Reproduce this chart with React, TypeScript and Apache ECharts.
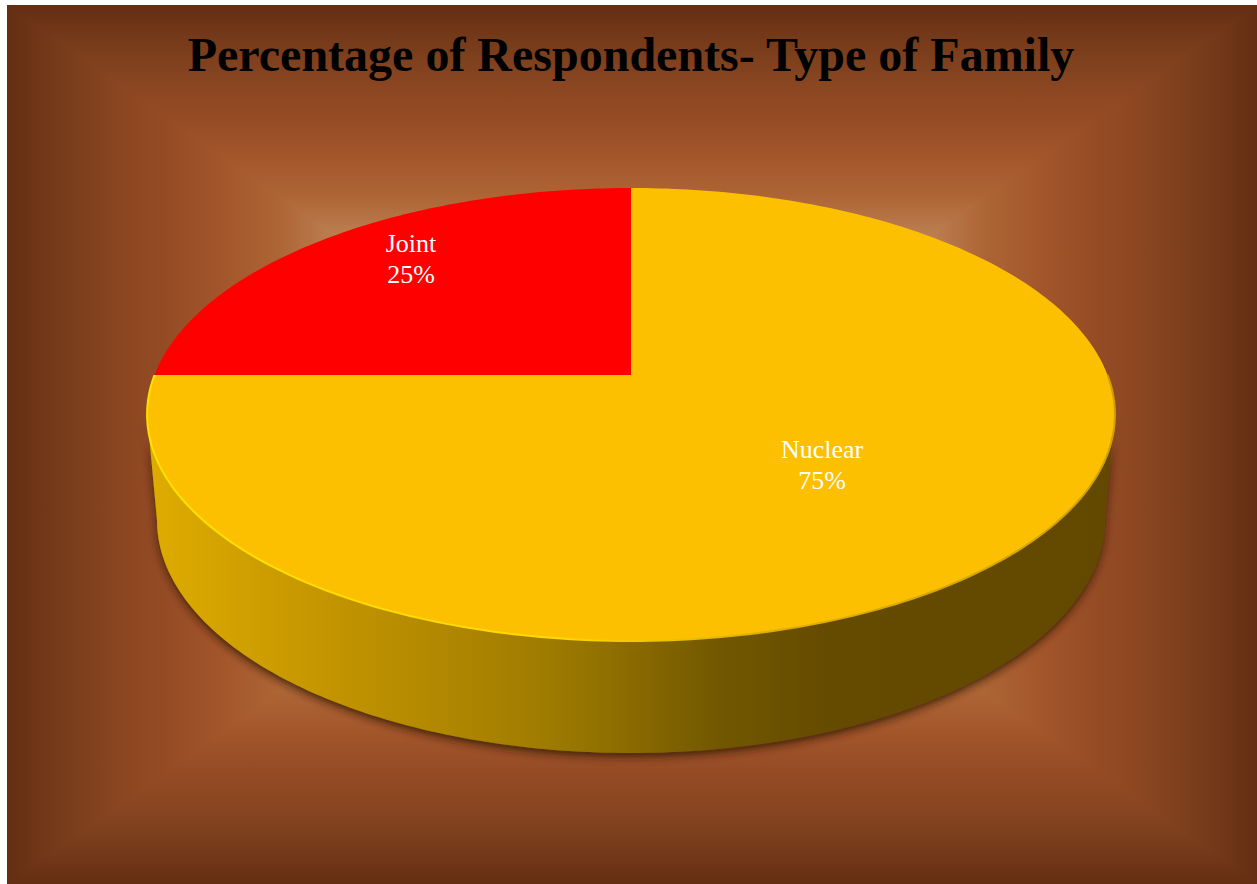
import React, { useEffect, useRef } from "react";
import * as echarts from "echarts";

const titleText = "Percentage of Respondents- Type of Family";
const categories = ["Nuclear", "Joint"];
const shares = [75, 25];
const sliceColors = ["#fcc000", "#ff0000"];

const WIDTH = 1257;
const HEIGHT = 884;

// Backdrop rectangle and its centre-out shading.
const BG = { left: 7, top: 5, right: 1257, bottom: 884 };
const bgRamp: [number, string][] = [
  [1, "#642e13"],
  [0.91, "#783c1b"],
  [0.83, "#884521"],
  [0.75, "#944b24"],
  [0.66, "#a3552a"],
  [0.56, "#ae6636"],
  [0.5, "#b8784a"],
  [0.45, "#c08558"],
  [0, "#d0a070"],
];

// Perspective disc: a homography from the unit circle to the tilted top face.
const DISC = { cx: 631, apexY: 375, radius: 476.5, rise: 154.2, persp: -0.1744 };
// Rim of the lower face of the disc.
const BASE = { cx: 631, cy: 520, rx: 474, ry: 233 };
// The wall starts where the top face is widest, a little before its horizontal radius.
const SILHOUETTE_INSET = (10 * Math.PI) / 180;

const wallStops: [number, string][] = [
  [150, "#deac00"],
  [350, "#c09200"],
  [540, "#a07c00"],
  [630, "#8a6b00"],
  [720, "#725700"],
  [830, "#654b00"],
  [1115, "#644a00"],
];
const rimStops: [number, string][] = [
  [148, "#ffe000"],
  [560, "#ffd800"],
  [760, "#e0b000"],
  [1115, "#d0a000"],
];

// Label offsets from the slice's mid-angle anchor.
const labelRadius = [0.53, 0.71];
const labelShiftY = [2, -15];

function project(angle: number, r = 1): [number, number] {
  const u = Math.sin(angle) * r;
  const v = -Math.cos(angle) * r;
  const w = 1 + DISC.persp * v;
  return [DISC.cx + (DISC.radius * u) / w, (DISC.rise * v + DISC.apexY) / w];
}

function baseRim(angle: number): [number, number] {
  return [BASE.cx + BASE.rx * Math.sin(angle), BASE.cy - BASE.ry * Math.cos(angle)];
}

function arc(from: number, to: number, fn: (a: number) => [number, number]) {
  const steps = Math.max(2, Math.ceil(((to - from) * 180) / Math.PI));
  const pts: [number, number][] = [];
  for (let i = 0; i <= steps; i++) pts.push(fn(from + ((to - from) * i) / steps));
  return pts;
}

function horizontal(stops: [number, string][]) {
  const x0 = stops[0][0];
  const x1 = stops[stops.length - 1][0];
  return new echarts.graphic.LinearGradient(
    x0, 0, x1, 0,
    stops.map(([x, color]) => ({ offset: (x - x0) / (x1 - x0), color })),
    true
  );
}

function rampGradient(x0: number, y0: number, x1: number, y1: number) {
  return new echarts.graphic.LinearGradient(
    x0, y0, x1, y1,
    bgRamp.map(([f, color]) => ({ offset: 1 - f, color })),
    true
  );
}

function backdrop() {
  const { left: l, top: t, right: r, bottom: b } = BG;
  const cx = (l + r) / 2;
  const cy = (t + b) / 2;
  const tri = (points: number[][], x0: number, y0: number) => ({
    type: "polygon",
    silent: true,
    z: -10,
    shape: { points },
    style: { fill: rampGradient(x0, y0, cx, cy) },
  });
  return [
    tri([[l, t], [r, t], [r, t + 2], [cx, cy + 2], [l, t + 2]], cx, t),
    tri([[l, b], [r, b], [r, b - 2], [cx, cy - 2], [l, b - 2]], cx, b),
    tri([[l, t], [cx, cy], [l, b]], l, cy),
    tri([[r, t], [cx, cy], [r, b]], r, cy),
  ];
}

export default function App() {
  const ref = useRef<HTMLDivElement>(null);

  useEffect(() => {
    document.body.style.margin = "0";
    const chart = echarts.init(ref.current!, undefined, { renderer: "svg" });
    const total = shares.reduce((a, b) => a + b, 0);

    const renderItem = (params: any, api: any) => {
      const i = params.dataIndex;
      const before = shares.slice(0, i).reduce((a, b) => a + b, 0);
      const start = (before / total) * Math.PI * 2;
      const end = start + (api.value(0) / total) * Math.PI * 2;
      const children: any[] = [];

      // Side wall: only the part of the slice on the near half of the disc.
      const frontFrom = Math.max(start, Math.PI / 2);
      const frontTo = Math.min(end, (Math.PI * 3) / 2);
      if (frontTo > frontFrom) {
        const topEdge = arc(frontFrom + SILHOUETTE_INSET, frontTo - SILHOUETTE_INSET, (a) => project(a));
        const lowEdge = arc(frontFrom, frontTo, baseRim).reverse();
        children.push({
          type: "polygon",
          shape: { points: [...topEdge, ...lowEdge] },
          style: {
            fill: horizontal(wallStops),
            shadowColor: "rgba(50,20,5,0.8)",
            shadowBlur: 8,
            shadowOffsetY: 4,
          },
        });
      }

      // Top face of the slice.
      const rim = arc(start, end, (a) => project(a));
      children.push({
        type: "polygon",
        shape: { points: [[DISC.cx, DISC.apexY], ...rim] },
        style: { fill: sliceColors[i] },
      });

      // Bevel along the near edge of the top face.
      if (frontTo > frontFrom) {
        children.push({
          type: "polyline",
          shape: { points: arc(frontFrom, frontTo, (a) => project(a)) },
          style: { stroke: horizontal(rimStops), fill: "none", lineWidth: 2 },
        });
      }

      // Name and share, placed from the slice's mid-angle.
      const [lx, ly] = project((start + end) / 2, labelRadius[i]);
      children.push({
        type: "text",
        style: {
          text: `${categories[i]}\n${api.value(0)}%`,
          x: lx,
          y: ly + labelShiftY[i],
          fill: "#ffffff",
          font: '26px "Liberation Serif"',
          lineHeight: 31,
          textAlign: "center",
          textVerticalAlign: "middle",
        },
      });

      return { type: "group", children };
    };

    chart.setOption({
      animation: false,
      title: {
        text: titleText,
        left: 626,
        top: 25,
        textAlign: "center",
        textStyle: {
          fontFamily: "Liberation Serif",
          fontWeight: "bold",
          fontSize: 48,
          color: "#000000",
        },
      },
      graphic: { elements: backdrop() },
      series: [
        {
          type: "custom",
          coordinateSystem: "none",
          silent: true,
          renderItem,
          data: shares.map((share, i) => ({ name: categories[i], value: [share, i] })),
          clip: false,
        },
      ],
    });

    return () => chart.dispose();
  }, []);

  return (
    <div
      ref={ref}
      style={{ position: "absolute", left: 0, top: 0, width: WIDTH, height: HEIGHT, background: "#ffffff" }}
    />
  );
}
